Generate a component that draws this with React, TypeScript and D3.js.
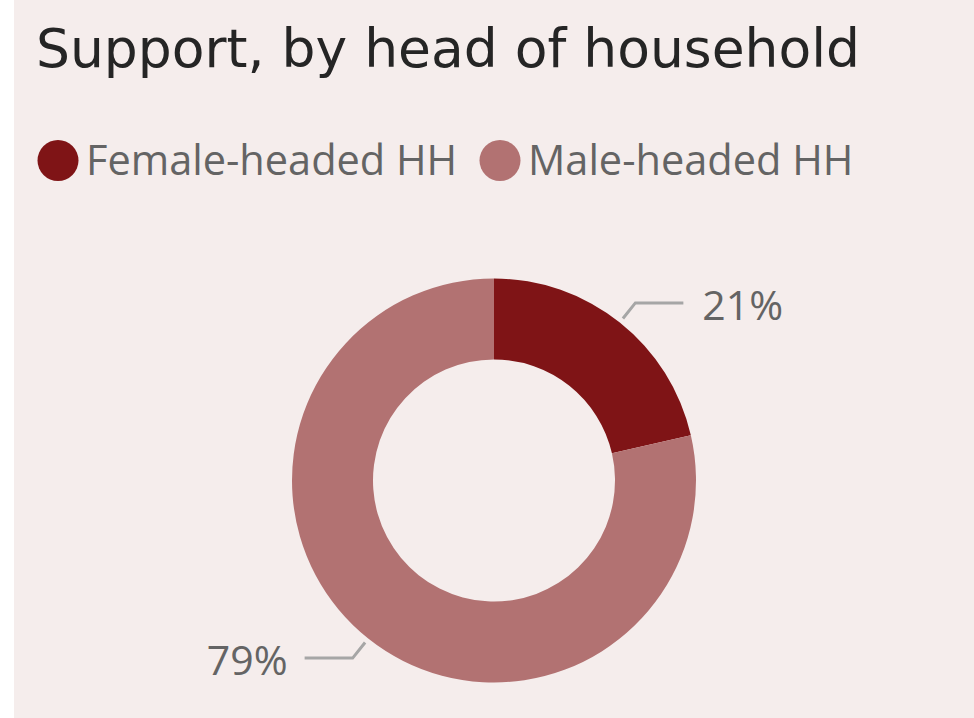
import React from "react";
import * as d3 from "d3";

const title = "Support, by head of household";
const categories = ["Female-headed HH", "Male-headed HH"];
const values = [21.4, 78.6];
const labels = ["21%", "79%"];
const colors = ["#7f1416", "#b27272"];

const W = 974;
const H = 718;
const cx = 494;
const cy = 480.5;
const outerR = 202;
const innerR = 121;

export default function App() {
  const pie = d3.pie<number>().sort(null).value((d) => d)(values);
  const arc = d3.arc<d3.PieArcDatum<number>>().innerRadius(innerR).outerRadius(outerR);
  const font = "'Open Sans', 'Noto Sans', sans-serif";

  return (
    <div style={{ position: "fixed", left: 0, top: 0, width: W, height: H }}>
      <svg width={W} height={H} style={{ display: "block" }}>
        <rect x={0} y={0} width={W} height={H} fill="#ffffff" />
        <rect x={14} y={0} width={W - 14} height={H} fill="#f5edec" />
        <text x={36} y={66.5} fontFamily="'DejaVu Sans', sans-serif" fontSize={53.5} fill="#252525">
          {title}
        </text>
        {categories.map((c, i) => {
          const x0 = i === 0 ? 58 : 500;
          return (
            <g key={c}>
              <circle cx={x0} cy={160.5} r={20.5} fill={colors[i]} />
              <text x={x0 + 28} y={175} fontFamily={font} fontSize={41.5} fill="#646464">
                {c}
              </text>
            </g>
          );
        })}
        <g transform={`translate(${cx},${cy})`}>
          {pie.map((p, i) => (
            <path key={i} d={arc(p) || ""} fill={colors[i]} />
          ))}
          {pie.map((p, i) => {
            const a = (p.startAngle + p.endAngle) / 2;
            const r1 = 207;
            const r2 = 227;
            const x1 = r1 * Math.sin(a);
            const y1 = -r1 * Math.cos(a);
            const x2 = r2 * Math.sin(a);
            const y2 = -r2 * Math.cos(a);
            const right = x2 > 0;
            const x3 = x2 + (right ? 48 : -48);
            return (
              <g key={"l" + i}>
                <polyline
                  points={`${x1},${y1} ${x2},${y2} ${x3},${y2}`}
                  fill="none"
                  stroke="#a6a6a6"
                  strokeWidth={3}
                />
                <text
                  x={x3 + (right ? 19 : -17)}
                  y={y2 + 17}
                  textAnchor={right ? "start" : "end"}
                  fontFamily={font}
                  fontSize={41}
                  fill="#646464"
                >
                  {labels[i]}
                </text>
              </g>
            );
          })}
        </g>
      </svg>
    </div>
  );
}
